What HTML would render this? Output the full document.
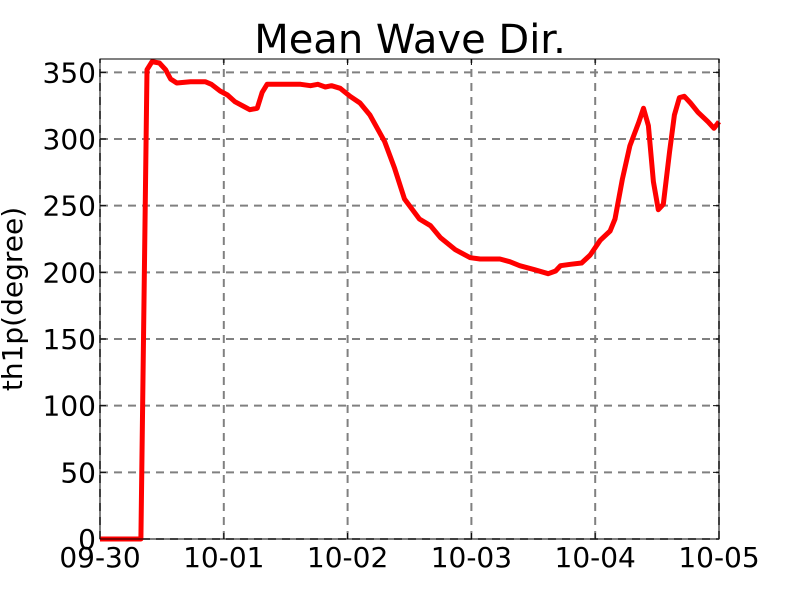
<!DOCTYPE html>
<html><head><meta charset="utf-8"><style>
body{margin:0;background:#fff}
svg text{font-family:"DejaVu Sans","Liberation Sans",sans-serif;fill:#000}
</style></head><body>
<svg id="chart" width="800" height="600" xmlns="http://www.w3.org/2000/svg">
<text x="410" y="53" font-size="40" text-anchor="middle">Mean Wave Dir.</text>
<text transform="translate(22,299) rotate(-90)" font-size="28" text-anchor="middle">th1p(degree)</text>
<g id="grid"></g>
<g id="ticks"></g>
<path id="line" fill="none" stroke="#ff0000" stroke-width="5" stroke-linejoin="round"/>
<rect x="100" y="59" width="619" height="480" fill="none" stroke="#000" stroke-width="1"/>
</svg>
<script>
const days=[0,0.33,0.38,0.42,0.48,0.53,0.57,0.62,0.73,0.85,0.90,0.97,1.03,1.09,1.17,1.21,1.27,1.31,1.35,1.49,1.62,1.70,1.76,1.82,1.87,1.94,2.02,2.10,2.18,2.30,2.38,2.46,2.58,2.67,2.75,2.87,2.99,3.07,3.23,3.31,3.39,3.51,3.62,3.68,3.72,3.80,3.89,3.96,4.04,4.12,4.16,4.22,4.28,4.35,4.39,4.43,4.47,4.51,4.55,4.60,4.64,4.68,4.72,4.77,4.83,4.91,4.96,5.0];
const values=[0,0,352,358,357,352,345,342,343,343,341,336,333,328,324,322,323,335,341,341,341,340,341,339,340,338,332,327,318,298,278,255,240,235,226,217,211,210,210,208,205,202,199,201,205,206,207,213,224,231,240,270,295,312,323,310,268,247,251,290,318,331,332,327,320,313,308,313];
const xTickLabels=["09-30","10-01","10-02","10-03","10-04","10-05"];
const yTicks=[0,50,100,150,200,250,300,350];
const X0=100,X1=719,Y0=539,Y1=59,YMAX=360;
const xs=d=>X0+d/5*(X1-X0);
const ys=v=>Y0-v/YMAX*(Y0-Y1);
const NS="http://www.w3.org/2000/svg";
const grid=document.getElementById('grid'),ticks=document.getElementById('ticks');
function mk(tag,attrs,parent){const e=document.createElementNS(NS,tag);for(const k in attrs)e.setAttribute(k,attrs[k]);parent.appendChild(e);return e;}
yTicks.forEach(v=>{const y=ys(v);
 const g=mk('line',{x1:X0,x2:X1,y1:y,y2:y,stroke:'#808080','stroke-width':2,'stroke-dasharray':'8,6'},grid);
 
 
 const t=mk('text',{x:X0-4,y:y+10,'font-size':28,'text-anchor':'end'},ticks);
 
 
 t.textContent=v;
 mk('line',{x1:X0,x2:X0+6,y1:y,y2:y,stroke:'#000'},ticks);
 mk('line',{x1:X1,x2:X1-6,y1:y,y2:y,stroke:'#000'},ticks);
});
xTickLabels.forEach((s,i)=>{const x=xs(i);
 const g=mk('line',{x1:x,x2:x,y1:Y0,y2:Y1,stroke:'#808080','stroke-width':2,'stroke-dasharray':'8,6'},grid);
 
 
 const t=mk('text',{x:x,y:567,'font-size':28,'text-anchor':'middle'},ticks);
 
 
 t.textContent=s;
 mk('line',{x1:x,x2:x,y1:Y0,y2:Y0-6,stroke:'#000'},ticks);
 mk('line',{x1:x,x2:x,y1:Y1,y2:Y1+6,stroke:'#000'},ticks);
});
document.getElementById('line').setAttribute('d',days.map((d,i)=>(i?'L':'M')+xs(d).toFixed(1)+','+ys(values[i]).toFixed(1)).join(''));
</script>
</body></html>
